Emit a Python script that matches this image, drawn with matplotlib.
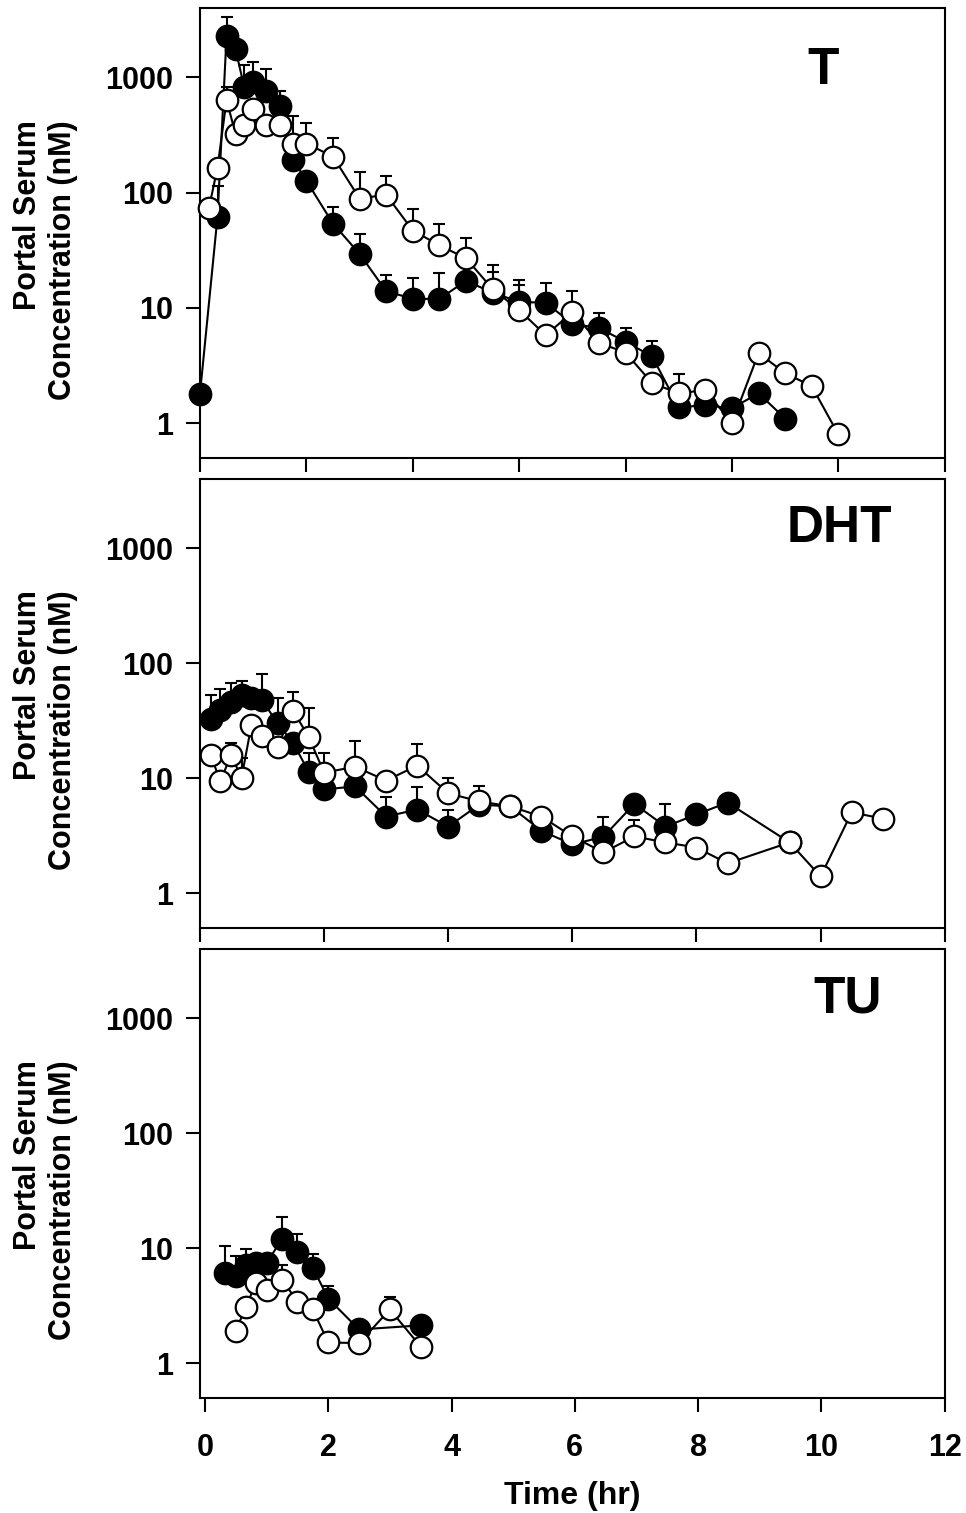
import numpy as np
import matplotlib
matplotlib.use("Agg")
import matplotlib.pyplot as plt
from matplotlib.ticker import FixedLocator, NullLocator

plt.rcParams['font.family'] = ['Liberation Sans', 'DejaVu Sans']
plt.rcParams['font.weight'] = 'bold'

# ---- T panel ----
t_T_fill = [0, 0.33, 0.5, 0.67, 0.83, 1.0, 1.25, 1.5, 1.75, 2.0, 2.5, 3.0, 3.5, 4.0,
            4.5, 5.0, 5.5, 6.0, 6.5, 7.0, 7.5, 8.0, 8.5, 9.0, 9.5, 10.0, 10.5, 11.0]
c_T_fill = [1.8, 62, 2280, 1750, 830, 920, 770, 570, 194, 127, 54, 29.5, 14, 12,
            12, 17.2, 13.6, 11.3, 11.1, 7.3, 6.7, 5.1, 3.8, 1.38, 1.43, 1.35, 1.82, 1.1]
e_T_fill = [0, 53, 1050, 0, 460, 450, 410, 190, 0, 0, 21.5, 14.5, 5.4, 6.2,
            8.2, 0, 7, 6.2, 5.4, 0, 2.3, 1.6, 1.4, 0, 0, 0, 0, 0]

t_T_open = [0.17, 0.33, 0.5, 0.67, 0.83, 1.0, 1.25, 1.5, 1.75, 2.0, 2.5, 3.0, 3.5, 4.0, 4.5,
            5.0, 5.5, 6.0, 6.5, 7.0, 7.5, 8.0, 8.5, 9.0, 9.5, 10.0, 10.5, 11.0, 11.5, 12.0]
c_T_open = [74, 165, 640, 320, 390, 527, 383, 383, 267, 267, 206, 89, 96, 47, 35,
            27, 14.6, 9.6, 5.8, 9.2, 5.0, 4.1, 2.23, 1.82, 1.94, 1.0, 4.06, 2.72, 2.1, 0.80]
e_T_open = [0, 0, 194, 0, 0, 0, 0, 0, 193, 133, 91, 63, 45, 25.6, 19,
            13.6, 9.1, 6.2, 0, 4.9, 0, 0, 0, 0.85, 0, 0, 0, 0, 0, 0]

# ---- DHT panel ----
t_D_fill = [0.17, 0.33, 0.5, 0.67, 0.83, 1.0, 1.25, 1.5, 1.75, 2.0, 2.5, 3.0, 3.5, 4.0,
            4.5, 5.0, 5.5, 6.0, 6.5, 7.0, 7.5, 8.0, 8.5, 9.5]
c_D_fill = [33, 39, 46, 53, 50, 48, 30, 20.4, 11.4, 8.0, 8.5, 4.65, 5.35, 3.8,
            5.9, 5.7, 3.5, 2.66, 3.1, 6.0, 3.8, 4.85, 6.15, 2.77]
e_D_fill = [20, 21, 21.6, 17, 0, 33, 20, 0, 5.3, 0, 0, 2.25, 3.1, 1.45,
            0, 0, 0, 0, 1.55, 0, 2.2, 0, 0, 0]

t_D_open = [0.17, 0.33, 0.5, 0.67, 0.83, 1.0, 1.25, 1.5, 1.75, 2.0, 2.5, 3.0, 3.5, 4.0,
            4.5, 5.0, 5.5, 6.0, 6.5, 7.0, 7.5, 8.0, 8.5, 9.5, 10.0, 10.5, 11.0]
c_D_open = [16, 9.4, 16, 10.1, 29.2, 23.5, 18.8, 38.7, 23, 11.2, 12.6, 9.55, 12.9, 7.4,
            6.3, 5.7, 4.65, 3.12, 2.27, 3.12, 2.77, 2.5, 1.82, 2.77, 1.4, 5.05, 4.47]
e_D_open = [0, 0, 4.4, 5, 0, 0, 0, 17.8, 18, 5.5, 8.6, 0, 7.1, 2.7,
            2.2, 0, 0, 0, 0, 1.2, 0, 0, 0, 0, 0, 0, 0]

# ---- TU panel ----
t_U_fill = [0.33, 0.5, 0.67, 0.83, 1.0, 1.25, 1.5, 1.75, 2.0, 2.5, 3.5]
c_U_fill = [6.15, 5.8, 7.2, 7.5, 7.4, 12.1, 9.2, 6.8, 3.66, 1.97, 2.14]
e_U_fill = [4.35, 2.7, 2.7, 0, 0, 6.7, 4.2, 2.2, 1.0, 0, 0]

t_U_open = [0.5, 0.67, 0.83, 1.0, 1.25, 1.5, 1.75, 2.0, 2.5, 3.0, 3.5]
c_U_open = [1.93, 3.12, 5.04, 4.38, 5.35, 3.45, 2.94, 1.52, 1.5, 2.94, 1.4]
e_U_open = [0, 0, 0, 0, 1.85, 0, 0, 0, 0, 0.87, 0]

panels = [
    ("T", t_T_fill, c_T_fill, e_T_fill, t_T_open, c_T_open, e_T_open, (0, 14), (0.836, 0.862)),
    ("DHT", t_D_fill, c_D_fill, e_D_fill, t_D_open, c_D_open, e_D_open, (0, 12), (0.859, 0.889)),
    ("TU", t_U_fill, c_U_fill, e_U_fill, t_U_open, c_U_open, e_U_open, (-0.08, 12), (0.870, 0.889)),
]

fig = plt.figure(figsize=(9.66, 15.13), dpi=100)
boxes = [[0.207, 0.6973, 0.771, 0.2974],
         [0.207, 0.3867, 0.771, 0.2967],
         [0.207, 0.0760, 0.771, 0.2968]]

for i, (name, tf, cf, ef, to, co, eo, xl, lab) in enumerate(panels):
    ax = fig.add_axes(boxes[i])
    ax.set_yscale('log')
    ax.set_ylim(0.5, 4000)
    ax.set_xlim(*xl)

    for t, c, e, face, z in [(tf, cf, ef, 'black', 2), (to, co, eo, 'white', 4)]:
        t = np.array(t); c = np.array(c); e = np.array(e)
        ax.errorbar(t, c, yerr=[np.zeros_like(e), e], fmt='none', ecolor='black',
                    elinewidth=1.5, capsize=4.3, capthick=1.5, zorder=z, clip_on=False)
        ax.plot(t, c, '-', color='black', lw=1.5, marker='o', ms=15.5, mfc=face,
                mec='black', mew=1.6, zorder=z + 1, clip_on=False)

    ax.text(lab[0], lab[1], name, transform=ax.transAxes, fontsize=37,
            fontweight='bold', ha='center', va='center')

    ax.yaxis.set_major_locator(FixedLocator([1, 10, 100, 1000]))
    ax.yaxis.set_minor_locator(NullLocator())
    ax.set_yticklabels(['1', '10', '100', '1000'])
    ax.xaxis.set_major_locator(FixedLocator(np.arange(0, xl[1] + 0.1, 2)))
    ax.xaxis.set_minor_locator(NullLocator())
    ax.tick_params(direction='out', length=10, width=1.5, labelsize=22, pad=9)
    for sp in ax.spines.values():
        sp.set_linewidth(1.5)

    ax.set_ylabel("Portal Serum\nConcentration (nM)", fontsize=22, fontweight='bold',
                  linespacing=1.2, multialignment='right')
    ax.yaxis.set_label_coords(-0.164, 0.44)

    if i < 2:
        ax.set_xticklabels([])
    else:
        ax.tick_params(axis='x', pad=15)
        ax.set_xticklabels([str(v) for v in range(0, 13, 2)])
        ax.set_xlabel("Time (hr)", fontsize=23, fontweight='bold', labelpad=13)

fig.savefig("out.png", dpi=100)
